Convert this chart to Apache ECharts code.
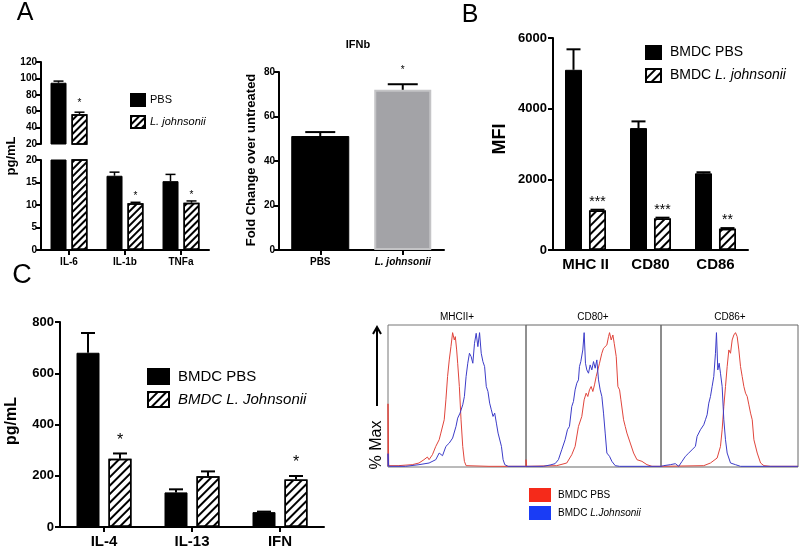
<!DOCTYPE html>
<html><head><meta charset="utf-8">
<script src="https://cdn.jsdelivr.net/npm/echarts@6/dist/echarts.min.js"></script>
<style>html,body{margin:0;padding:0;background:#fff}#c{width:800px;height:552px}</style>
</head><body><div id="c"></div>
<script>
// ---------- Panel A (left): cytokines, broken axis ----------
const aCats = ['IL-6', 'IL-1b', 'TNFa'];
const aPBS = [94.7, 16.5, 15.3];
const aPBSErr = [96.7, 17.3, 16.8];
const aLJ = [56.3, 10.4, 10.5];
const aLJErr = [58.8, 10.6, 10.9];
const aStars = ['*', '*', '*'];

// ---------- Panel A (right): IFNb ----------
const ifnCats = ['PBS', 'L. johnsonii'];
const ifnVals = [51, 72];
const ifnErr = [53, 74.5];
const ifnStars = ['', '*'];

// ---------- Panel B: MFI ----------
const bCats = ['MHC II', 'CD80', 'CD86'];
const bPBS = [5100, 3450, 2170];
const bPBSErr = [5680, 3640, 2200];
const bLJ = [1120, 890, 600];
const bLJErr = [1140, 915, 620];
const bStars = ['***', '***', '**'];

// ---------- Panel C: cytokines ----------
const cCats = ['IL-4', 'IL-13', 'IFN'];
const cPBS = [680, 135, 58];
const cPBSErr = [757, 147, 60];
const cLJ = [266, 198, 185];
const cLJErr = [287, 217, 199];
const cStars = ['*', '', '*'];

// ---------- Flow histograms: [channel, count] ----------
const mhcPBS = [[0,2],[0,190],[2,4],[7,4],[30,4],[72,7],[92,12],[107,22],[117,30],[122,22],[132,37],[142,62],[147,57],[152,82],[157,102],[162,107],[167,142],[172,202],[177,272],[182,322],[187,362],[192,404],[197,382],[200,392],[204,352],[207,312],[212,242],[217,142],[222,62],[227,17],[232,4],[300,2],[410,2]];
const mhcLJ = [[0,2],[0,40],[2,2],[52,2],[92,7],[122,12],[142,22],[152,42],[162,34],[172,62],[182,72],[192,87],[202,122],[207,147],[214,162],[222,187],[227,212],[232,272],[237,312],[242,342],[247,332],[252,312],[257,372],[262,402],[267,362],[272,404],[277,342],[282,317],[287,302],[292,242],[297,227],[302,192],[307,172],[312,152],[317,162],[322,132],[327,102],[332,97],[337,62],[342,22],[347,7],[357,2],[410,2]];
const cd80PBS = [[0,2],[0,22],[2,2],[92,4],[122,12],[137,37],[147,62],[157,122],[167,152],[174,202],[180,222],[185,212],[190,232],[195,242],[200,227],[205,247],[210,272],[214,267],[220,312],[227,342],[232,357],[237,352],[242,367],[247,392],[250,404],[255,382],[260,397],[264,372],[270,332],[275,242],[280,232],[284,202],[292,142],[297,122],[302,102],[312,72],[322,42],[332,22],[347,17],[362,7],[377,2],[404,2]];
const cd80LJ = [[0,2],[52,2],[72,6],[87,10],[97,22],[107,52],[117,82],[124,112],[130,122],[137,182],[142,197],[147,232],[152,252],[157,262],[160,302],[164,317],[167,312],[170,352],[174,404],[178,312],[182,292],[187,282],[192,307],[197,292],[202,317],[207,297],[212,322],[217,262],[222,232],[227,212],[232,162],[237,102],[242,42],[250,32],[257,17],[267,4],[280,2],[404,2]];
const cd86PBS = [[0,2],[128,4],[148,12],[168,27],[178,62],[183,112],[188,182],[193,242],[198,302],[203,352],[208,342],[213,382],[218,397],[223,404],[228,392],[233,352],[238,302],[243,272],[248,242],[253,222],[258,212],[263,187],[268,162],[273,142],[278,82],[288,42],[298,12],[308,4],[328,2],[410,2]];
const cd86LJ = [[0,2],[8,4],[28,7],[43,10],[53,2],[63,17],[73,32],[83,42],[93,52],[103,62],[108,92],[118,112],[128,127],[133,142],[138,157],[143,192],[148,212],[153,242],[158,272],[163,342],[166,404],[170,292],[174,312],[178,282],[183,242],[188,142],[193,82],[198,42],[208,12],[223,7],[238,2],[410,2]];
const histTitles = ['MHCII+', 'CD80+', 'CD86+'];

// ---------- styling ----------
const NARROW = '"Liberation Sans Narrow", "Arial Narrow", "Liberation Sans", sans-serif';
const SANS = '"Liberation Sans", Arial, sans-serif';
const RED = '#e0453c', BLUE = '#3c3cc8';

const chart = echarts.init(document.getElementById('c'));

function hatch(gap) {
  return { symbol: 'rect', symbolSize: 1, color: '#000', dashArrayX: [1, 0], dashArrayY: [1.6, gap], rotation: -Math.PI / 4 };
}
function yAx(gi, min, max, interval, fs, fam, margin) {
  return {
    type: 'value', gridIndex: gi, min, max, interval,
    axisLine: { show: true, lineStyle: { color: '#000', width: 2 } },
    axisTick: { show: true, length: 5, lineStyle: { color: '#000', width: 2 } },
    axisLabel: { color: '#000', fontSize: fs, fontFamily: fam, fontWeight: 'bold', margin: margin, formatter: v => String(v) },
    splitLine: { show: false }
  };
}
function xAx(gi, data, fs, fam, ticks) {
  return {
    type: 'category', gridIndex: gi, data,
    axisLine: { show: true, lineStyle: { color: '#000', width: 2 } },
    axisTick: { show: ticks, alignWithLabel: true, length: 5, lineStyle: { color: '#000', width: 2 } },
    axisLabel: { color: '#000', fontSize: fs, fontFamily: fam, fontWeight: 'bold', margin: 7, interval: 0 },
    splitLine: { show: false }
  };
}
function errSeries(xi, yi, vals, ups, stars, offset, capW, lw, starFont, starGap) {
  return {
    type: 'custom', xAxisIndex: xi, yAxisIndex: yi, z: 5, silent: true,
    data: vals.map((v, i) => [i, v, ups[i]]),
    renderItem(params, api) {
      const i = api.value(0);
      const p0 = api.coord([i, api.value(1)]);
      const p1 = api.coord([i, api.value(2)]);
      const cs = params.coordSys;
      const top = cs.y, bot = cs.y + cs.height;
      if (p1[1] < top - 1 || p1[1] > bot + 1) return null;
      const x = p0[0] + offset;
      const y0 = Math.min(p0[1], bot);
      const children = [
        { type: 'line', shape: { x1: x, y1: y0, x2: x, y2: p1[1] }, style: { stroke: '#000', lineWidth: lw } },
        { type: 'line', shape: { x1: x - capW / 2, y1: p1[1], x2: x + capW / 2, y2: p1[1] }, style: { stroke: '#000', lineWidth: lw } }
      ];
      const s = stars[params.dataIndex];
      if (s) children.push({ type: 'text', x: x, y: p1[1] - starGap,
        style: { text: s, font: starFont + 'px ' + SANS, fill: '#000', align: 'center', verticalAlign: 'bottom' } });
      return { type: 'group', children };
    }
  };
}
function bar(name, xi, yi, data, bw, gap, hatched, gapDecal) {
  return {
    type: 'bar', name, xAxisIndex: xi, yAxisIndex: yi, data, barWidth: bw, barGap: gap, clip: true,
    itemStyle: hatched
      ? { color: '#fff', borderColor: '#000', borderWidth: 1.5, decal: hatch(gapDecal) }
      : { color: '#000', borderColor: '#000', borderWidth: 1 }
  };
}
function histLine(name, xi, data, color) {
  return { type: 'line', name, xAxisIndex: xi, yAxisIndex: xi, data, showSymbol: false, symbol: 'none',
    lineStyle: { color, width: 1 }, itemStyle: { color }, z: 3 };
}
function hx(gi, max) { return { type: 'value', gridIndex: gi, min: 0, max, show: false }; }
function hy(gi) { return { type: 'value', gridIndex: gi, min: 0, max: 427, show: false }; }

const xA0 = xAx(0, aCats, 10, NARROW, false); xA0.show = false;
const xIfn = xAx(2, ifnCats, 10, NARROW, true);
xIfn.axisLabel.formatter = v => v === 'PBS' ? v : '{i|' + v + '}';
xIfn.axisLabel.rich = { i: { fontStyle: 'italic', fontWeight: 'bold', fontSize: 10, fontFamily: NARROW, color: '#000' } };

const option = {
  animation: false,
  backgroundColor: '#fff',
  grid: [
    { left: 41, top: 62, width: 168, height: 82 },
    { left: 41, top: 160, width: 168, height: 90 },
    { left: 279, top: 72, width: 165, height: 178 },
    { left: 553, top: 38, width: 195, height: 212 },
    { left: 60, top: 322, width: 264, height: 205 },
    { left: 388, top: 325, width: 138, height: 142, show: true, borderColor: '#777', borderWidth: 1 },
    { left: 526, top: 325, width: 135, height: 142, show: true, borderColor: '#666', borderWidth: 1 },
    { left: 661, top: 325, width: 137, height: 142, show: true, borderColor: '#666', borderWidth: 1 }
  ],
  xAxis: [
    xA0,
    xAx(1, aCats, 10, NARROW, true),
    xIfn,
    xAx(3, bCats, 15, SANS, false),
    xAx(4, cCats, 15, SANS, true),
    hx(5, 410), hx(6, 404), hx(7, 410)
  ],
  yAxis: [
    yAx(0, 20, 120, 20, 10, NARROW, 4),
    yAx(1, 0, 20, 5, 10, NARROW, 4),
    yAx(2, 0, 80, 20, 10, NARROW, 4),
    yAx(3, 0, 6000, 2000, 13, SANS, 6),
    yAx(4, 0, 800, 200, 13, SANS, 6),
    hy(5), hy(6), hy(7)
  ],
  legend: [
    { data: ['PBS', 'L. johnsonii'], left: 125, top: 88, orient: 'vertical', itemWidth: 14, itemHeight: 12, itemGap: 8,
      icon: 'rect', selectedMode: false,
      formatter: n => n === 'PBS' ? '{n|PBS}' : '{i|L. johnsonii}',
      textStyle: { rich: { n: { fontFamily: NARROW, fontSize: 11, color: '#000' }, i: { fontFamily: NARROW, fontSize: 11, fontStyle: 'italic', color: '#000' } } } },
    { data: ['BMDC PBS', 'BMDC L. johnsonii'], left: 640, top: 40, orient: 'vertical', itemWidth: 15, itemHeight: 13, itemGap: 8,
      icon: 'rect', selectedMode: false,
      formatter: n => n === 'BMDC PBS' ? '{n|BMDC PBS}' : '{n|BMDC }{i|L. johnsonii}',
      textStyle: { rich: { n: { fontFamily: SANS, fontSize: 14, color: '#000', padding: [0, 0, 0, 4] }, i: { fontFamily: SANS, fontSize: 14, fontStyle: 'italic', color: '#000' } } } },
    { data: ['BMDC PBS', 'BMDC L. Johnsonii'], left: 142, top: 363, orient: 'vertical', itemWidth: 21, itemHeight: 15, itemGap: 6,
      icon: 'rect', selectedMode: false,
      formatter: n => n === 'BMDC PBS' ? '{n|BMDC PBS}' : '{i|BMDC L. Johnsonii}',
      textStyle: { rich: { n: { fontFamily: SANS, fontSize: 15, color: '#000', padding: [0, 0, 0, 4] }, i: { fontFamily: SANS, fontSize: 15, fontStyle: 'italic', color: '#000', padding: [0, 0, 0, 4] } } } },
    { data: [{ name: 'PBS flow', itemStyle: { color: '#f52a1a' } }, { name: 'LJ flow', itemStyle: { color: '#1a3cf5' } }],
      left: 524, top: 483, orient: 'vertical', itemWidth: 22, itemHeight: 14, itemGap: 4, icon: 'rect', selectedMode: false,
      formatter: n => n === 'PBS flow' ? '{n|BMDC PBS}' : '{n|BMDC }{i|L.Johnsonii}',
      textStyle: { rich: { n: { fontFamily: SANS, fontSize: 10, color: '#000', padding: [0, 0, 0, 2] }, i: { fontFamily: SANS, fontSize: 10, fontStyle: 'italic', color: '#000' } } } }
  ],
  series: [
    // A left upper & lower
    bar('PBS', 0, 0, aPBS, 16, '31%', false),
    bar('L. johnsonii', 0, 0, aLJ, 16, '31%', true, 3),
    bar('PBS', 1, 1, aPBS, 16, '31%', false),
    bar('L. johnsonii', 1, 1, aLJ, 16, '31%', true, 3),
    errSeries(0, 0, aPBS, aPBSErr, ['', '', ''], -10.5, 10, 1.5, 10, 1),
    errSeries(0, 0, aLJ, aLJErr, aStars, 10.5, 10, 1.5, 10, 4),
    errSeries(1, 1, aPBS, aPBSErr, ['', '', ''], -10.5, 10, 1.5, 10, 1),
    errSeries(1, 1, aLJ, aLJErr, aStars, 10.5, 10, 1.5, 10, 1),
    // A right
    { type: 'bar', name: 'IFNb', xAxisIndex: 2, yAxisIndex: 2, barWidth: 57,
      data: ifnVals.map((v, i) => ({ value: v, itemStyle: i === 0 ? { color: '#000', borderColor: '#000' } : { color: '#a3a3a7', borderColor: '#c4c4c6', borderWidth: 2 } })) },
    errSeries(2, 2, ifnVals, ifnErr, ifnStars, 0, 30, 2, 10, 9),
    // B
    bar('BMDC PBS', 3, 3, bPBS, 17, '41%', false),
    bar('BMDC L. johnsonii', 3, 3, bLJ, 17, '41%', true, 3.5),
    errSeries(3, 3, bPBS, bPBSErr, ['', '', ''], -12, 14, 2, 14, 1),
    errSeries(3, 3, bLJ, bLJErr, bStars, 12, 14, 2, 14, 1),
    // C
    bar('BMDC PBS', 4, 4, cPBS, 23, '39%', false),
    bar('BMDC L. Johnsonii', 4, 4, cLJ, 23, '39%', true, 4),
    errSeries(4, 4, cPBS, cPBSErr, ['', '', ''], -16, 14, 2, 16, 5),
    errSeries(4, 4, cLJ, cLJErr, cStars, 16, 14, 2, 16, 5),
    // flow histograms
    histLine('PBS flow', 5, mhcPBS, RED),
    histLine('LJ flow', 5, mhcLJ, BLUE),
    histLine('PBS flow', 6, cd80PBS, RED),
    histLine('LJ flow', 6, cd80LJ, BLUE),
    histLine('PBS flow', 7, cd86PBS, RED),
    histLine('LJ flow', 7, cd86LJ, BLUE)
  ],
  graphic: [
    { type: 'text', x: 25, y: 13, style: { text: 'A', font: '25px ' + SANS, fill: '#000', align: 'center', verticalAlign: 'middle' } },
    { type: 'text', x: 470, y: 15, style: { text: 'B', font: '25px ' + SANS, fill: '#000', align: 'center', verticalAlign: 'middle' } },
    { type: 'text', x: 22, y: 276, style: { text: 'C', font: '27px ' + SANS, fill: '#000', align: 'center', verticalAlign: 'middle' } },
    { type: 'text', x: 358, y: 45, style: { text: 'IFNb', font: 'bold 11px ' + NARROW, fill: '#000', align: 'center', verticalAlign: 'middle' } },
    { type: 'text', x: 11, y: 156, rotation: Math.PI / 2, style: { text: 'pg/mL', font: 'bold 13px ' + SANS, fill: '#000', align: 'center', verticalAlign: 'middle' } },
    { type: 'text', x: 251, y: 160, rotation: Math.PI / 2, style: { text: 'Fold Change over untreated', font: 'bold 13px ' + SANS, fill: '#000', align: 'center', verticalAlign: 'middle' } },
    { type: 'text', x: 500, y: 139, rotation: Math.PI / 2, style: { text: 'MFI', font: 'bold 18px ' + SANS, fill: '#000', align: 'center', verticalAlign: 'middle' } },
    { type: 'text', x: 12, y: 421, rotation: Math.PI / 2, style: { text: 'pg/mL', font: 'bold 16px ' + SANS, fill: '#000', align: 'center', verticalAlign: 'middle' } },
    { type: 'text', x: 457, y: 317, style: { text: histTitles[0], font: '10px ' + SANS, fill: '#000', align: 'center', verticalAlign: 'middle' } },
    { type: 'text', x: 593, y: 317, style: { text: histTitles[1], font: '10px ' + SANS, fill: '#000', align: 'center', verticalAlign: 'middle' } },
    { type: 'text', x: 730, y: 317, style: { text: histTitles[2], font: '10px ' + SANS, fill: '#000', align: 'center', verticalAlign: 'middle' } },
    { type: 'text', x: 377, y: 445, rotation: Math.PI / 2, style: { text: '% Max', font: '16px ' + SANS, fill: '#000', align: 'center', verticalAlign: 'middle' } },
    { type: 'line', shape: { x1: 377, y1: 406, x2: 377, y2: 328 }, style: { stroke: '#000', lineWidth: 2 } },
    { type: 'polyline', shape: { points: [[373, 334], [377, 327], [381, 334]] }, style: { stroke: '#000', lineWidth: 2, fill: null } }
  ]
};
chart.setOption(option);
</script>
</body></html>
